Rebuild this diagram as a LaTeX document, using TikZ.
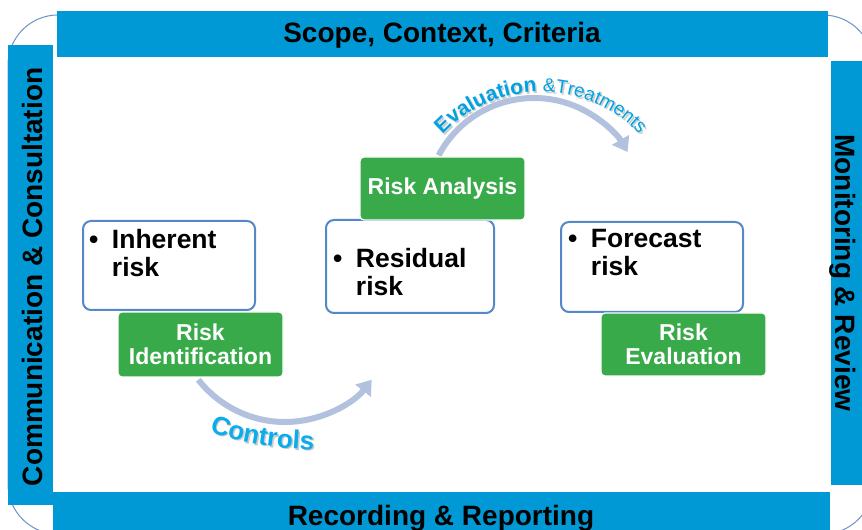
\documentclass[tikz,border=0pt]{standalone}
\usepackage{fontspec}
\setmainfont{Liberation Sans}
\usetikzlibrary{arrows.meta,decorations.text}
\definecolor{barblue}{RGB}{0,153,214}
\definecolor{boxblue}{RGB}{84,136,200}
\definecolor{stepgreen}{RGB}{57,170,73}
\definecolor{arrowgray}{RGB}{178,194,222}
\definecolor{arctext}{RGB}{0,162,225}
\definecolor{ctrltext}{RGB}{10,172,236}
\definecolor{outlineblue}{RGB}{110,145,200}
\begin{document}
\begin{tikzpicture}[x=1pt,y=1pt,
  bar/.style={fill=barblue, draw=none, inner sep=0pt, outer sep=0pt},
  bartext/.style={font=\fontsize{28}{32}\selectfont\bfseries, text=black, inner sep=0pt},
  riskbox/.style={draw=boxblue, line width=2pt, fill=white, rounded corners=8pt, inner sep=0pt},
  greenbox/.style={fill=stepgreen, draw=white, line width=1.2pt, rounded corners=4pt, text=white,
    font=\fontsize{23}{23.5}\selectfont\bfseries, align=center, inner sep=0pt,
    minimum width=165pt},
  boxtext/.style={font=\fontsize{26.5}{28}\selectfont\bfseries, anchor=base west, inner sep=0pt},
  flowarrow/.style={draw=arrowgray, line width=6pt, -{Triangle[width=19pt,length=14pt]}},
]
\useasboundingbox (0,0) rectangle (862,530);
\clip (0,0) rectangle (862,530);
\fill[white] (0,0) rectangle (862,530);
% outline behind bars
\draw[outlineblue, line width=1pt, rounded corners=50pt] (8,-4) rectangle (873,515);
% bars
\node[bar, minimum width=771pt, minimum height=46pt] (scopebar) at (442.5,496) {};
\node[bar, minimum width=45pt, minimum height=460pt] (commbar) at (30.5,255) {};
\node[bar, minimum width=777pt, minimum height=48pt] (recbar) at (441.5,14) {};
\node[bar, minimum width=49pt, minimum height=424pt] (monbar) at (855.5,257) {};
% bar texts
\node[bartext, anchor=base] (scopetext) at (442,487) {Scope, Context, Criteria};
\node[bartext, anchor=base] (rectext) at (441,5) {Recording \& Reporting};
\node[bartext, anchor=base, rotate=90] (commtext) at (42,253) {Communication \& Consultation};
\node[bartext, anchor=base, rotate=-90] (montext) at (835,257) {Monitoring \& Review};
% arrows
\coordinate (topc) at (534,324);
\coordinate (botc) at (285,218);
\draw[flowarrow] (topc) ++(152:108) arc[start angle=152, end angle=30, radius=108];
\draw[flowarrow] (botc) ++(218:110) arc[start angle=218, end angle=322, radius=110];
% white boxes
\node[riskbox, minimum width=172pt, minimum height=89pt] (inherent) at (169,264.5) {};
\node[riskbox, minimum width=168pt, minimum height=93pt] (residual) at (410,263.5) {};
\node[riskbox, minimum width=182pt, minimum height=90pt] (forecast) at (652,263) {};
% box texts
\node[boxtext] (inhtext) at (89,281) {\begin{tabular}[t]{@{}l@{\hspace{13.5pt}}l@{}}•&Inherent\\&risk\end{tabular}};
\node[boxtext] (restext) at (333,262) {\begin{tabular}[t]{@{}l@{\hspace{13.5pt}}l@{}}•&Residual\\&risk\end{tabular}};
\node[boxtext] (fortext) at (568,282) {\begin{tabular}[t]{@{}l@{\hspace{13.5pt}}l@{}}•&Forecast\\&risk\end{tabular}};
% green boxes
\node[greenbox, minimum height=65pt] (riskid) at (200.5,185.5) {Risk\\Identification};
\node[greenbox, minimum height=63pt] (riskan) at (442.5,341.5) {Risk Analysis};
\node[greenbox, minimum height=63pt] (riskev) at (683.5,185.5) {Risk\\Evaluation};
% arc texts with shadow
\coordinate (evc) at (541,303);
\coordinate (evcs) at (542.5,301.5);
\path[decorate, decoration={text along path, text align=center, text color=black!20,
  text={|\fontsize{21}{24}\selectfont\bfseries|Evaluation |\fontsize{19}{22}\selectfont\mdseries|{\&}Treatments}}]
  (evcs) ++(140:135) arc[start angle=140, end angle=40, radius=135];
\path[decorate, decoration={text along path, text align=center, text color=arctext,
  text={|\fontsize{21}{24}\selectfont\bfseries|Evaluation |\fontsize{19}{22}\selectfont\mdseries|{\&}Treatments}}]
  (evc) ++(140:135) arc[start angle=140, end angle=40, radius=135];
\coordinate (cta) at (203.5,101.5);
\coordinate (ctb) at (323.5,78.5);
\coordinate (csa) at (202,103);
\coordinate (csb) at (322,80);
\path[decorate, decoration={text along path, text align=center, text color=black!20,
  text={|\fontsize{26}{28}\selectfont\bfseries|Controls}}]
  (cta) .. controls +(30,-17) and +(-40,1) .. (ctb);
\path[decorate, decoration={text along path, text align=center, text color=ctrltext,
  text={|\fontsize{26}{28}\selectfont\bfseries|Controls}}]
  (csa) .. controls +(30,-17) and +(-40,1) .. (csb);
\end{tikzpicture}
\end{document}
